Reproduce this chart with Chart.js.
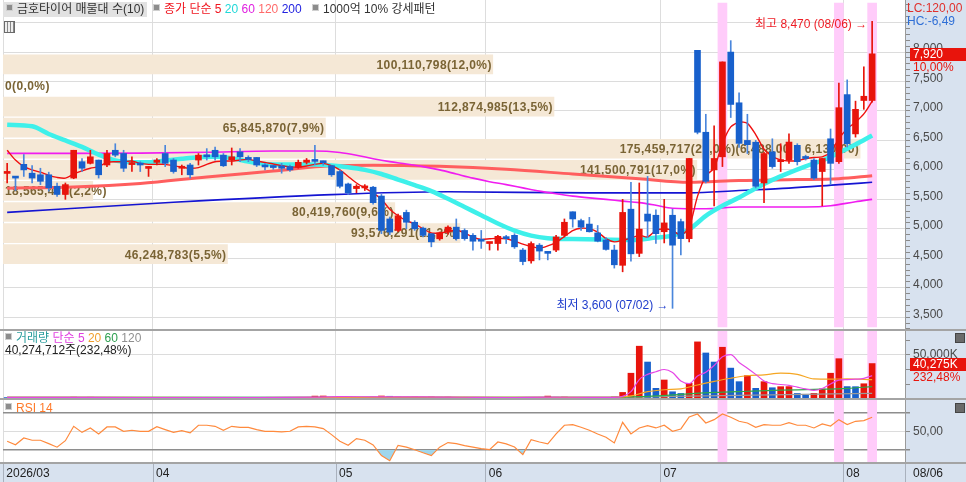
<!DOCTYPE html>
<html lang="ko">
<head>
<meta charset="utf-8">
<title>금호타이어 매물대</title>
<script src="https://cdn.jsdelivr.net/npm/chart.js@4.4.1/dist/chart.umd.min.js"></script>
<style>
  html, body { margin: 0; padding: 0; background: #fff; }
  #wrap { position: relative; width: 966px; height: 482px; overflow: hidden; background: #fff;
          font: 12px "Liberation Sans", "Noto Sans CJK KR", sans-serif; color: #333; }
  .abs { position: absolute; white-space: nowrap; line-height: 14px; z-index: 5; }
  .bg { position: absolute; z-index: 0; }
  canvas { position: absolute; left: 0; z-index: 1; }
  .sep { position: absolute; left: 0; width: 966px; height: 2px; background: #a4a4a4; z-index: 4; }
  .sq { display: inline-block; width: 5px; height: 5px; background: #8c8c8c; border: 1px solid #cfcfcf; margin-right: 4px; vertical-align: 2px; }
  .ico { position: absolute; width: 8px; height: 8px; background: #6a6a6a; border: 1px solid #444; z-index: 5; }
</style>
</head>
<body>
<div id="wrap">
  <div class="bg" style="left:905px;top:0;width:61px;height:482px;background:#d8e2ef"></div>
  <div class="bg" style="left:0;top:463px;width:966px;height:19px;background:#d8e2ef"></div>

  <canvas id="cPrice" width="966" height="330" style="top:0"></canvas>
  <canvas id="cVol" width="966" height="69" style="top:330px"></canvas>
  <canvas id="cRsi" width="966" height="83" style="top:399px"></canvas>

  <div class="sep" style="top:329px"></div>
  <div class="sep" style="top:398px"></div>
  <div class="sep" style="top:462px"></div>

  <!-- header -->
  <div class="bg" style="left:3px;top:2px;width:144px;height:15px;background:#e2e2e2;z-index:4"></div>
  <div class="abs" style="left:6px;top:2px"><span class="sq"></span>금호타이어 매물대 수(10)</div>
  <div class="abs" style="left:153px;top:2px"><span class="sq"></span><span style="color:#f0141e">종가 단순 5</span>
    <span style="color:#20d8d8">20</span> <span style="color:#e020e0">60</span>
    <span style="color:#ff6a6a">120</span> <span style="color:#2323e0">200</span></div>
  <div class="abs" style="left:312px;top:2px"><span class="sq"></span>1000억 10% 강세패턴</div>
  <div class="abs" style="left:4px;top:21px;width:9px;height:10px;border:1px solid #6a6a6a;
       background:repeating-linear-gradient(90deg,#eee 0 2px,#888 2px 3px)"></div>

  <div class="abs" style="left:907px;top:1px;color:#e0302c">LC:120,00</div>
  <div class="abs" style="left:907px;top:14px;color:#2f6fd6">HC:-6,49</div>

  <!-- volume legend -->
  <div class="abs" style="left:5px;top:331px"><span class="sq"></span><span style="color:#2a9d9d">거래량</span>
    <span style="color:#e040e0">단순 5</span> <span style="color:#f0a030">20</span>
    <span style="color:#2ea050">60</span> <span style="color:#909090">120</span></div>
  <div class="abs" id="volInfo" style="left:5px;top:343px;color:#222"></div>
  <div class="ico" style="left:955px;top:333px"></div>

  <!-- rsi legend -->
  <div class="abs" style="left:5px;top:401px;color:#ff7a2a"><span class="sq"></span>RSI 14</div>
  <div class="ico" style="left:955px;top:403px"></div>

  <div class="abs" id="lastDate" style="left:913px;top:466px;color:#222"></div>
</div>

<script>
// =====================
// DATA
// =====================
const monthStart = [0, 18, 40, 58, 79, 101];
const monthLabel = ['2026/03', '04', '05', '06', '07', '08'];
const lastDate = '08/06';
const highDate = '08/06';
const lowDate = '07/02';

const open = [
  5890, 5815, 6044, 5894, 5867, 5867, 5672, 5533, 5811, 6089,
  6061, 6117, 6033, 6283, 6228, 6040, 6061, 5975, 6078, 6228,
  6117, 5978, 6033, 6117, 6175, 6283, 6200, 6117, 6256, 6133,
  6161, 6006, 5995, 6017, 6006, 5994, 6078, 6100, 6078, 6022,
  5922, 5711, 5633, 5644, 5656, 5506, 5117, 4922, 5228, 5061,
  4961, 4867, 4780, 4900, 4978, 4922, 4839, 4745, 4700, 4700,
  4785, 4839, 4589, 4406, 4672, 4536, 4589, 4839, 5239, 5089,
  5030, 4880, 4760, 4589, 4330, 5283, 4533, 5200, 5180, 4900,
  5180, 5072, 4783, 7980, 6589, 5950, 6172, 7950, 7089, 6450,
  6420, 5728, 6256, 6089, 6117, 6367, 6150, 6117, 5922, 6478,
  6089, 7228, 6561, 7128, 7128
];
const high = [
  6061, 5817, 6211, 6022, 5978, 5911, 5728, 5728, 6283, 6144,
  6283, 6117, 6283, 6394, 6283, 6172, 6089, 6006, 6144, 6367,
  6144, 6033, 6061, 6228, 6311, 6339, 6228, 6322, 6311, 6189,
  6161, 6061, 6030, 6061, 6033, 6117, 6144, 6367, 6100, 6022,
  5950, 5728, 5700, 5700, 5672, 5533, 5150, 5200, 5267, 5089,
  4978, 4867, 4894, 5000, 5117, 4950, 4867, 4922, 4710, 4839,
  4839, 4867, 4617, 4728, 4700, 4561, 4839, 5117, 5239, 5117,
  5144, 5006, 4800, 4672, 5450, 5740, 5728, 5839, 5270, 5450,
  5283, 5117, 6144, 7980, 6894, 6700, 7783, 8144, 7256, 6894,
  6450, 6250, 6478, 6394, 6561, 6394, 6200, 6144, 6144, 6644,
  7422, 7478, 7117, 7700, 8470
];
const low = [
  5728, 5600, 5839, 5728, 5700, 5589, 5500, 5450, 5800, 5922,
  6050, 5811, 6006, 6172, 5922, 5922, 5922, 5839, 6033, 6006,
  5894, 5867, 5811, 6033, 6117, 6117, 6006, 6033, 6089, 6089,
  6006, 5950, 5960, 5894, 5922, 5978, 6050, 6033, 6030, 5839,
  5644, 5533, 5561, 5600, 5367, 4867, 4850, 4900, 4950, 4922,
  4811, 4644, 4756, 4860, 4756, 4756, 4589, 4617, 4589, 4589,
  4700, 4617, 4339, 4367, 4422, 4422, 4561, 4811, 4978, 4922,
  4894, 4728, 4589, 4283, 4220, 4400, 4478, 4800, 4700, 4710,
  3600, 4506, 4728, 6561, 5728, 5339, 6006, 6839, 6330, 6228,
  5644, 5394, 5978, 5922, 6061, 6033, 6117, 5783, 5339, 5700,
  6061, 6339, 6506, 6978, 7100
];
const close = [
  5900, 5811, 5950, 5811, 5756, 5644, 5533, 5700, 6283, 5978,
  6172, 5867, 6228, 6200, 5978, 6050, 6033, 5980, 6117, 6061,
  5922, 5994, 5867, 6200, 6172, 6172, 6020, 6172, 6172, 6128,
  6033, 6000, 5990, 5978, 5950, 6078, 6117, 6094, 6072, 5867,
  5672, 5561, 5672, 5672, 5394, 4922, 4894, 5172, 5061, 4950,
  4839, 4728, 4880, 4978, 4783, 4783, 4739, 4739, 4706, 4822,
  4783, 4644, 4394, 4700, 4572, 4533, 4811, 5061, 5117, 4978,
  4900, 4740, 4600, 4339, 5228, 4525, 4945, 5080, 4867, 5050,
  4672, 4783, 6144, 6589, 5756, 6144, 7783, 7061, 6400, 6378,
  5672, 6228, 6006, 6117, 6422, 6089, 6144, 5811, 6144, 6061,
  7006, 6394, 6978, 7200, 7920
];

// 종가 단순 5
const ma5 = [
  6283, 6117, 6006, 5950, 5911, 5856, 5822, 5811, 5878, 5933,
  5978, 6006, 6078, 6089, 6089, 6100, 6061, 6044, 6044, 6044,
  6022, 5994, 5978, 5989, 6044, 6089, 6100, 6100, 6117, 6128,
  6100, 6078, 6050, 6022, 6000, 6000, 6017, 6044, 6061, 6022,
  5950, 5839, 5728, 5644, 5561, 5450, 5283, 5172, 5089, 5033,
  4950, 4878, 4880, 4900, 4930, 4880, 4810, 4770, 4780, 4790,
  4780, 4740, 4690, 4650, 4620, 4660, 4720, 4820, 4920, 4960,
  4950, 4894, 4783, 4728, 4755, 4794, 4839, 4811, 4922, 4950,
  4922, 4839, 4978, 5500, 5850, 5980, 6400, 6680, 6760, 6740,
  6550, 6300, 6180, 6120, 6100, 6110, 6140, 6160, 6170, 6250,
  6480, 6650, 6760, 6900, 7117
];
// 20 / 60 / 120 / 200 : [candle, value]
const ma20 = [[0,6717],[3,6690],[5,6560],[7,6450],[9,6340],[11,6210],[13,6110],[15,6080],[17,6080],
  [19,6110],[21,6140],[23,6165],[25,6175],[27,6150],[29,6090],[31,6050],[34,6040],[37,6040],[39,6025],
  [41,5995],[43,5950],[45,5880],[47,5785],[49,5690],[51,5590],[53,5460],[55,5320],[57,5180],[59,5040],
  [61,4920],[63,4835],[65,4790],[68,4775],[72,4765],[75,4760],[78,4800],[80,4835],[82,4940],[84,5170],
  [86,5340],[88,5480],[90,5640],[92,5780],[94,5900],[96,6010],[98,6110],[100,6240],[102,6380],[104,6533]];
const ma60 = [[0,6230],[8,6230],[16,6235],[24,6250],[32,6270],[37,6270],[40,6245],[42,6200],[44,6140],
  [46,6090],[48,6050],[50,6005],[52,5950],[54,5880],[56,5810],[58,5750],[60,5700],[62,5645],[64,5590],
  [66,5545],[68,5505],[70,5475],[72,5450],[74,5420],[76,5394],[78,5350],[80,5300],[84,5290],[88,5320],
  [96,5320],[99,5340],[102,5410],[104,5450]];
const ma120 = [[0,5640],[8,5660],[16,5720],[24,5830],[32,5930],[39,6020],[44,6030],[52,6010],[60,5960],
  [68,5880],[76,5800],[82,5740],[88,5770],[95,5785],[100,5800],[104,5850]];
const ma200 = [[0,5228],[20,5400],[39,5530],[53,5578],[70,5560],[82,5560],[88,5600],[94,5640],[100,5700],[104,5739]];

// 거래량 (천주)
const vol = [
  1600, 1900, 1700, 1500, 1800, 1600, 1900, 1700, 2100, 1800,
  2000, 1700, 1900, 1600, 1800, 1500, 1700, 1500, 1600, 1700,
  1500, 1600, 1500, 1700, 1600, 1500, 1400, 1600, 1700, 1500,
  1600, 1500, 1600, 1500, 1600, 1700, 1500, 3300, 3400, 2000,
  2300, 2100, 1900, 1700, 2200, 3400, 3100, 2200, 2000, 2200,
  2000, 2300, 2000, 2100, 1800, 1900, 1700, 1800, 1500, 1700,
  1400, 1600, 1900, 1700, 1800, 3300, 2000, 2200, 1900, 1700,
  1900, 1600, 1800, 2300, 7470, 29300, 60000, 42000, 12100, 21600,
  8200, 6300, 17800, 64900, 52300, 42000, 58800, 35100, 19700, 26600,
  12100, 19700, 12800, 14000, 14100, 6300, 4400, 6400, 11300, 29300,
  45800, 14100, 14000, 17324, 40274.712
];
const vma5 = [[0,1800],[10,1800],[20,1600],[30,1550],[37,2100],[40,2600],[45,2500],[50,2500],[55,2000],
  [60,1600],[65,2100],[70,1900],[73,1900],[74,3000],[75,8300],[76,22000],[77,28000],[78,31000],[79,33500],
  [80,30000],[81,20500],[82,17500],[83,26000],[84,30500],[85,38000],[86,48000],[87,50500],[88,41500],
  [89,35000],[90,28000],[91,20500],[92,17500],[93,16500],[94,15500],[95,13500],[96,11500],[97,9800],
  [98,12000],[99,17000],[100,21500],[101,22000],[102,22500],[103,23500],[104,26500]];
const vma20 = [[0,1900],[30,1700],[50,2100],[70,1900],[73,2000],[75,3500],[77,8300],[79,10500],[81,11500],
  [83,15900],[85,20000],[87,23600],[89,26400],[91,27500],[93,29300],[95,28000],[97,22800],[99,22500],
  [101,23000],[104,22000]];
const vma60 = [[0,1900],[70,2000],[74,2200],[77,2900],[81,5200],[85,7500],[89,8800],[93,10000],[97,10900],
  [101,12100],[104,14000]];
const vma120 = [[0,1900],[74,2000],[80,3000],[90,4500],[104,6300]];

// RSI 14
const rsi = [
  39.4, 35.7, 43, 40.5, 40.5, 36.8, 33, 40, 55.6, 49,
  53.8, 47.3, 54.9, 54.9, 50.2, 51.3, 50.2, 50.2, 55.2, 52,
  49, 50.9, 48.4, 56.7, 56.7, 55.6, 51.3, 55.6, 54.4, 54.4,
  52, 50.2, 50.2, 49.5, 50.2, 54.9, 55.6, 54.9, 53.1, 46.6,
  39.4, 35, 42.3, 40.5, 35.4, 23.9, 18.4, 35, 33, 30.2,
  27, 23.9, 33, 38, 36.8, 34.6, 33, 31.5, 30.3, 38.6,
  36.5, 33.2, 25, 41.2, 38.6, 36.5, 47.3, 56.7, 57.4, 54.5,
  51.3, 47.3, 43.7, 37.6, 59.9, 47.3, 53.8, 56.3, 53.8, 56.7,
  50.2, 52.7, 65.7, 68.9, 59.2, 62.8, 68.9, 65.3, 61, 59.2,
  54.5, 57.4, 56.7, 56.7, 59.5, 56.7, 56.7, 53.8, 58.1, 55.9,
  62.8, 57.4, 61, 61.7, 65.3
];
const rsiLevels = [30, 50, 70];

// 1000억 10% 강세패턴 signal days
const signalIdx = [86, 100, 104];

// 매물대 (10 bands)
const bandLo  = [7562, 7204, 6846, 6488, 6130, 5772, 5414, 5056, 4698, 4340];
const bandHi  = [7920, 7562, 7204, 6846, 6488, 6130, 5772, 5414, 5056, 4698];
const bandVol = [100110798, 0, 112874985, 65845870, 175459717, 141500791, 18565470, 80419760, 93576291, 46248783];
const bandPct = [12.0, 0.0, 13.5, 7.9, 21.0, 17.0, 2.2, 9.6, 11.2, 5.5];

// =====================
// SCALE RANGES / STYLE
// =====================
const X_MIN = -0.5, X_MAX = 107.95;
const PRICE_MIN = 3283, PRICE_MAX = 8783;
const VOL_MAX = 78400;
const RSI_MIN = 15.9, RSI_MAX = 85.1;
const BAND_MAX = 22.1;

const UP = '#e8140c', DOWN = '#1860cc', DOWN_WICK = '#4a86dc';
const FONT = '"Liberation Sans", "Noto Sans CJK KR", sans-serif';
Chart.defaults.font.family = FONT;
Chart.defaults.font.size = 12;

// =====================
// HELPER
// =====================
function fmtInt(n) { return Math.round(n).toLocaleString('en-US'); }
function fmtDec(n, d) {
  const [a, b] = n.toFixed(d).split('.');
  return Number(a).toLocaleString('en-US') + ',' + b;
}
const idx = close.map((_, i) => i);
const pts = arr => arr.map(([x, y]) => ({ x, y }));

function xScale(h, showLabels) {
  return {
    type: 'linear', min: X_MIN, max: X_MAX, offset: false,
    afterBuildTicks: s => { s.ticks = monthStart.map(i => ({ value: i - 0.5 })); },
    afterFit: s => { s.height = h; s.paddingLeft = 0; s.paddingRight = 0; },
    grid: { color: '#dddddd', drawTicks: false, offset: false },
    border: { display: false },
    ticks: {
      display: showLabels, autoSkip: false, maxRotation: 0, align: 'start', padding: 3,
      color: '#222', callback: (v, i) => ' ' + monthLabel[i]
    }
  };
}
function yScale(min, max, tickVals, isMajor, label) {
  return {
    type: 'linear', position: 'right', min, max,
    afterBuildTicks: s => { s.ticks = tickVals.map(v => ({ value: v })); },
    afterFit: s => { s.width = 61; s.paddingTop = 0; s.paddingBottom = 0; },
    grid: {
      color: c => (c.tick && isMajor(c.tick.value)) ? '#dcdcdc' : 'rgba(0,0,0,0)',
      tickColor: '#8a8a8a', tickLength: 5, drawTicks: true
    },
    border: { display: true, color: '#9a9a9a' },
    ticks: { autoSkip: false, padding: 3, color: '#4a4a4a', callback: v => label(v) }
  };
}
function baseOptions(y, xh, xLabels) {
  return {
    responsive: false, animation: false, events: [],
    layout: { padding: { left: 3, right: 0, top: 0, bottom: 0 }, autoPadding: false },
    plugins: { legend: { display: false }, tooltip: { enabled: false } },
    elements: { point: { radius: 0 } },
    scales: { x: xScale(xh, xLabels), y }
  };
}
function maLine(data, color, width, order) {
  return { type: 'line', data: pts(data), borderColor: color, borderWidth: width,
           cubicInterpolationMode: 'monotone', order };
}
function signalBars(lo, hi) {
  return { type: 'bar', data: signalIdx.map(i => ({ x: i, y: [lo, hi] })),
           backgroundColor: '#ffccfa', barThickness: 9, grouped: false, order: 45 };
}

// =====================
// PLUGINS
// =====================
const bandLabelPlugin = {
  id: 'bandLabels',
  afterDatasetDraw(chart, args) {
    if (args.index !== 1) return; // right after the signal columns
    const meta = chart.getDatasetMeta(0);
    const ctx = chart.ctx, left = chart.chartArea.left;
    const maxI = bandPct.indexOf(Math.max(...bandPct));
    ctx.save();
    ctx.font = 'bold 12px ' + FONT;
    ctx.letterSpacing = '0.4px';
    ctx.fillStyle = '#7a6435';
    ctx.textBaseline = 'middle';
    meta.data.forEach((el, i) => {
      let t = fmtInt(bandVol[i]) + '(' + fmtDec(bandPct[i], 1) + '%)';
      if (i === maxI) t += '(' + fmtDec(bandHi[i], 2) + ' ~ ' + fmtDec(bandLo[i], 2) + ')';
      const w = ctx.measureText(t).width;
      if (el.x - left - 4 > w) { ctx.textAlign = 'right'; ctx.fillText(t, el.x - 1, el.y + 1); }
      else { ctx.textAlign = 'left'; ctx.fillText(t, left + 2, el.y + 1); }
    });
    ctx.restore();
  }
};

const extremesPlugin = {
  id: 'extremes',
  afterDatasetsDraw(chart) {
    const xs = chart.scales.x, ys = chart.scales.y, ctx = chart.ctx;
    const hi = high.indexOf(Math.max(...high));
    const lo = low.indexOf(Math.min(...low));
    ctx.save();
    ctx.font = '12px ' + FONT;
    ctx.textAlign = 'right';
    ctx.textBaseline = 'middle';
    ctx.fillStyle = '#ee1c24';
    ctx.fillText('최고 ' + fmtInt(high[hi]) + ' (' + highDate + ') →',
                 xs.getPixelForValue(hi) - 5, ys.getPixelForValue(high[hi]) + 3);
    ctx.fillStyle = '#1e3ccc';
    ctx.fillText('최저 ' + fmtInt(low[lo]) + ' (' + lowDate + ') →',
                 xs.getPixelForValue(lo) - 4, ys.getPixelForValue(low[lo]) - 3);
    ctx.restore();
  }
};

const lastTagPlugin = {
  id: 'lastTag',
  afterDraw(chart, args, opts) {
    const s = chart.scales.y, ctx = chart.ctx;
    const y = Math.round(s.getPixelForValue(opts.value));
    ctx.save();
    ctx.fillStyle = UP;
    ctx.fillRect(s.left + 5, y - 6, s.right - s.left - 5, 13);
    ctx.font = '12px ' + FONT;
    ctx.textBaseline = 'middle';
    ctx.textAlign = 'left';
    ctx.fillStyle = '#fff';
    ctx.fillText(opts.text, s.left + 8, y + 1);
    ctx.fillStyle = UP;
    ctx.fillText(opts.sub, s.left + 8, y + 14);
    ctx.restore();
  }
};

const bandTicksPlugin = {
  id: 'bandTicks',
  afterDraw(chart) {
    const xs = chart.scales.x, ctx = chart.ctx;
    const top = chart.chartArea.bottom, bottom = chart.height;
    ctx.save();
    ctx.strokeStyle = '#a9b1bd';
    ctx.lineWidth = 1;
    const xsPix = xs.ticks.map(t => xs.getPixelForValue(t.value)).concat([chart.chartArea.right]);
    xsPix.forEach(px => {
      const x = Math.round(px) + 0.5;
      ctx.beginPath(); ctx.moveTo(x, top); ctx.lineTo(x, bottom); ctx.stroke();
    });
    ctx.restore();
  }
};

// =====================
// PRICE PANEL
// =====================
const priceTicks = [];
for (let v = 3300; v <= 8700; v += 100) priceTicks.push(v);
const priceOpts = baseOptions(
  yScale(PRICE_MIN, PRICE_MAX, priceTicks, v => v % 500 === 0,
         v => (v % 500 === 0 && v >= 3500 && v <= 8000) ? fmtInt(v) : ''), 0, false);
priceOpts.scales.xb = { type: 'linear', display: false, min: 0, max: BAND_MAX };
priceOpts.plugins.lastTag = {
  value: close[close.length - 1],
  text: fmtInt(close[close.length - 1]),
  sub: fmtDec((close[close.length - 1] / close[close.length - 2] - 1) * 100, 2) + '%'
};

new Chart(document.getElementById('cPrice'), {
  type: 'line',
  data: {
    datasets: [
      { type: 'bar', indexAxis: 'y', xAxisID: 'xb', yAxisID: 'y',
        data: bandPct.map((p, i) => ({ x: p, y: (bandLo[i] + bandHi[i]) / 2 })),
        backgroundColor: '#f5e8d6', barThickness: 19, grouped: false, order: 50 },
      signalBars(PRICE_MIN, PRICE_MAX),
      maLine(ma200, '#1414d2', 1.6, 30),
      maLine(ma120, '#ff5e5e', 3, 29),
      maLine(ma60, '#f01cf0', 1.6, 28),
      maLine(ma20, '#3ef0ea', 4.5, 27),
      { type: 'line', data: idx.map(i => ({ x: i, y: ma5[i] })), borderColor: '#f01010',
        borderWidth: 1.4, tension: 0.25, order: 26 },
      { type: 'bar', data: idx.map(i => ({ x: i, y: [low[i], high[i]] })),
        backgroundColor: idx.map(i => close[i] >= open[i] ? UP : DOWN_WICK),
        barThickness: 1, grouped: false, order: 2 },
      { type: 'bar', data: idx.map(i => ({ x: i, y: [open[i], close[i]] })),
        backgroundColor: idx.map(i => close[i] >= open[i] ? UP : DOWN),
        barThickness: 6, minBarLength: 2, grouped: false, order: 1 }
    ]
  },
  options: priceOpts,
  plugins: [bandLabelPlugin, extremesPlugin, lastTagPlugin]
});

// =====================
// VOLUME PANEL
// =====================
const volOpts = baseOptions(
  yScale(0, VOL_MAX, [0, 50000 / 3, 100000 / 3, 50000, 200000 / 3], v => v === 50000,
         v => v === 50000 ? fmtInt(v) + 'K' : ''), 0, false);
const lastVol = vol[vol.length - 1], prevVol = vol[vol.length - 2];
volOpts.plugins.lastTag = {
  value: lastVol, text: fmtInt(lastVol) + 'K', sub: fmtDec(lastVol / prevVol * 100, 2) + '%'
};

new Chart(document.getElementById('cVol'), {
  type: 'line',
  data: {
    datasets: [
      signalBars(0, VOL_MAX),
      { type: 'bar', data: idx.map(i => ({ x: i, y: vol[i] })),
        backgroundColor: idx.map(i => (i > 0 && vol[i] >= vol[i - 1]) ? UP : DOWN),
        barThickness: 6, minBarLength: 1, grouped: false, order: 10 },
      maLine(vma120, '#9a9a9a', 1.2, 4),
      maLine(vma60, '#2ea84a', 1.2, 3),
      maLine(vma20, '#f5a623', 1.2, 2),
      maLine(vma5, '#e646e6', 1.2, 1)
    ]
  },
  options: volOpts,
  plugins: [lastTagPlugin]
});

document.getElementById('volInfo').textContent =
  fmtInt(lastVol * 1000) + '주(' + fmtDec(lastVol / prevVol * 100, 2) + '%)';

// =====================
// RSI PANEL
// =====================
const rsiOpts = baseOptions(
  yScale(RSI_MIN, RSI_MAX, rsiLevels, v => v === 50, v => v === 50 ? fmtDec(v, 2) : ''), 19, true);
rsiOpts.scales.y.grid.color = c => !c.tick ? 'rgba(0,0,0,0)' : (c.tick.value === 50 ? '#dcdcdc' : '#8e8e8e');
rsiOpts.scales.y.grid.lineWidth = c => (c.tick && c.tick.value !== 50) ? 1.5 : 1;

new Chart(document.getElementById('cRsi'), {
  type: 'line',
  data: {
    datasets: [
      signalBars(RSI_MIN, RSI_MAX),
      { type: 'line', data: idx.map(i => ({ x: i, y: rsi[i] })), borderColor: '#ff8a3d',
        borderWidth: 1.2, order: 1,
        fill: { target: { value: rsiLevels[0] }, above: 'rgba(0,0,0,0)', below: '#9fd6ec' } }
    ]
  },
  options: rsiOpts,
  plugins: [bandTicksPlugin]
});

document.getElementById('lastDate').textContent = lastDate;
</script>
</body>
</html>
